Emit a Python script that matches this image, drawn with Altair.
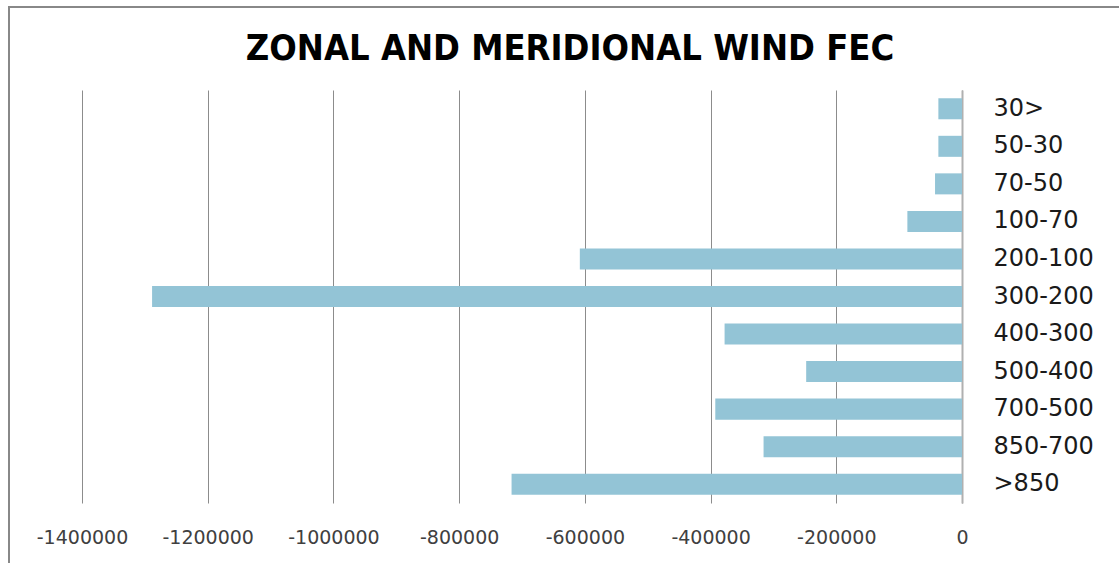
import altair as alt
import pandas as pd

# Pressure layers (hPa), top of the atmosphere first
layers = ["30>", "50-30", "70-50", "100-70", "200-100", "300-200",
          "400-300", "500-400", "700-500", "850-700", ">850"]
fec = [-37600, -37600, -42900, -86900, -608000, -1288500,
       -377700, -247900, -392500, -315700, -716600]
x_ticks = [-1400000, -1200000, -1000000, -800000, -600000, -400000, -200000, 0]
title_text = "ZONAL AND MERIDIONAL WIND FEC"

df = pd.DataFrame({"layer": layers, "fec": fec})

bars = alt.Chart(df).mark_bar(color="#93C4D6").encode(
    x=alt.X(
        "fec:Q",
        scale=alt.Scale(domain=[-1400000, 0], nice=False),
        axis=alt.Axis(
            values=x_ticks, title=None, grid=True,
            labelExpr="datum.value == 0 ? '0' : '-' + format(-datum.value, 'd')",
            gridColor="#8c8c8c", gridWidth=1, domain=False, ticks=False,
            labelFont="DejaVu Sans", labelFontSize=19, labelColor="#404040",
            labelPadding=25, labelFlush=False,
        ),
    ),
    y=alt.Y(
        "layer:N",
        sort=layers,
        scale=alt.Scale(paddingInner=0.44, paddingOuter=0.22),
        axis=alt.Axis(
            orient="right", title=None, ticks=False, grid=False,
            domain=True, domainColor="#b0b0b0", domainWidth=2,
            labelFont="DejaVu Sans", labelFontSize=24, labelColor="#1a1a1a",
            labelAlign="left", labelPadding=31,
        ),
    ),
)

meta = pd.DataFrame({"t": [title_text]})

title = alt.Chart(meta).mark_text(
    font="'DejaVu Sans Condensed', 'DejaVu Sans'", fontSize=36,
    fontWeight="bold", align="center", baseline="alphabetic", color="#000000",
).encode(x=alt.value(488), y=alt.value(-30), text="t:N")

# outer border of the chart: left and top edges, kept inside the canvas
border_left = alt.Chart(meta).mark_rule(color="#888888", strokeWidth=2).encode(
    x=alt.value(-73), y=alt.value(-84), y2=alt.value(473),
)
border_top = alt.Chart(meta).mark_rule(color="#888888", strokeWidth=2).encode(
    x=alt.value(-74), x2=alt.value(1037), y=alt.value(-83),
)

chart = alt.layer(border_left, border_top, bars, title).properties(
    width=880, height=413,
    background="white",
    autosize=alt.AutoSizeParams(type="none"),
    padding={"left": 82, "top": 90, "right": 157, "bottom": 60},
).configure_view(stroke=None)

chart.save("out.html", embed_options={"renderer": "svg", "actions": False})
